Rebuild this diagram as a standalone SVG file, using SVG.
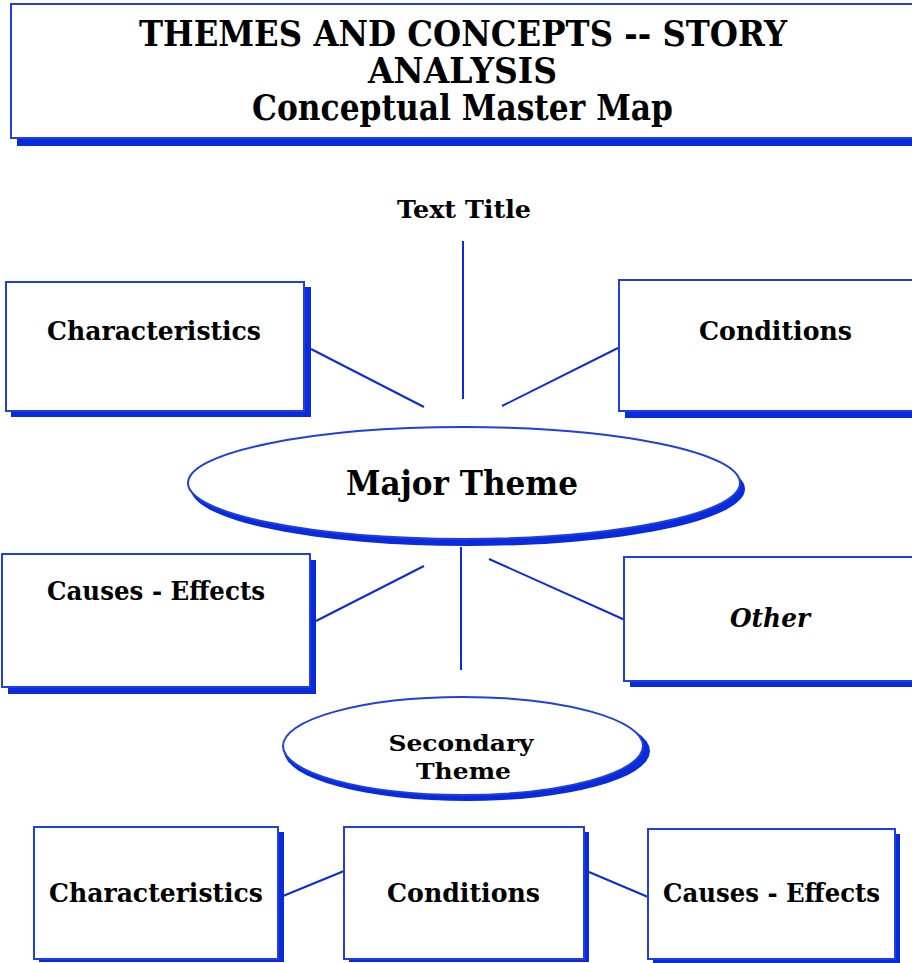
<svg xmlns="http://www.w3.org/2000/svg" width="912" height="963" viewBox="0 0 912 963">
  <style>
    .shadow { fill: #0a2bdc; }
    .box { fill: #ffffff; stroke: #1f3fe0; stroke-width: 2; }
    .link { stroke: #0a2bdc; stroke-width: 2; fill: none; }
    .lbl { font-family: "DejaVu Serif", "Liberation Serif", serif; font-weight: bold; fill: #000; text-anchor: middle; }
  </style>
  <rect width="912" height="963" fill="#ffffff"/>

  <!-- heading panel -->
  <g id="title">
    <rect class="shadow" x="17" y="10" width="903" height="136"/>
    <rect class="box" x="11" y="4" width="904" height="134"/>
    <text class="lbl" x="463" y="46" font-size="35" textLength="648" lengthAdjust="spacingAndGlyphs">THEMES AND CONCEPTS -- STORY</text>
    <text class="lbl" x="462.5" y="83" font-size="35" textLength="189" lengthAdjust="spacingAndGlyphs">ANALYSIS</text>
    <text class="lbl" x="462.5" y="120" font-size="35" textLength="421" lengthAdjust="spacingAndGlyphs">Conceptual Master Map</text>
  </g>

  <!-- connectors -->
  <g id="connectors">
    <line class="link" x1="463" y1="241" x2="463" y2="399"/>
    <line class="link" x1="311" y1="349" x2="424" y2="407"/>
    <line class="link" x1="618" y1="348" x2="502" y2="406"/>
    <line class="link" x1="461" y1="547" x2="461" y2="670"/>
    <line class="link" x1="316" y1="621" x2="424" y2="566"/>
    <line class="link" x1="489" y1="559" x2="625" y2="620"/>
    <line class="link" x1="283" y1="896" x2="344" y2="871"/>
    <line class="link" x1="589" y1="872" x2="648" y2="897"/>
  </g>

  <g id="text-title">
    <text class="lbl" x="464" y="218" font-size="25" textLength="134" lengthAdjust="spacingAndGlyphs">Text Title</text>
  </g>

  <g id="characteristics-top">
    <rect class="shadow" x="11" y="287" width="300" height="130"/>
    <rect class="box" x="6" y="282" width="298" height="129"/>
    <text class="lbl" x="154" y="340" font-size="26" textLength="214" lengthAdjust="spacingAndGlyphs">Characteristics</text>
  </g>

  <g id="conditions-top">
    <rect class="shadow" x="625" y="286" width="300" height="132"/>
    <rect class="box" x="619" y="280" width="300" height="131"/>
    <text class="lbl" x="775.5" y="340" font-size="26" textLength="153" lengthAdjust="spacingAndGlyphs">Conditions</text>
  </g>

  <g id="major-theme">
    <ellipse class="shadow" cx="468" cy="489" rx="277" ry="57"/>
    <ellipse class="box" cx="464" cy="483" rx="276" ry="56"/>
    <text class="lbl" x="462" y="495" font-size="34" textLength="232" lengthAdjust="spacingAndGlyphs">Major Theme</text>
  </g>

  <g id="causes-effects-top">
    <rect class="shadow" x="8" y="560" width="308" height="134"/>
    <rect class="box" x="2" y="554" width="308" height="133"/>
    <text class="lbl" x="156" y="600" font-size="26" textLength="218" lengthAdjust="spacingAndGlyphs">Causes - Effects</text>
  </g>

  <g id="other">
    <rect class="shadow" x="630" y="563" width="295" height="124"/>
    <rect class="box" x="624" y="557" width="295" height="124"/>
    <text class="lbl" x="770" y="627" font-size="26" font-style="italic" textLength="80" lengthAdjust="spacingAndGlyphs">Other</text>
  </g>

  <g id="secondary-theme">
    <ellipse class="shadow" cx="467" cy="751" rx="183" ry="50"/>
    <ellipse class="box" cx="463" cy="746" rx="180" ry="49"/>
    <text class="lbl" x="461" y="751" font-size="23" textLength="145" lengthAdjust="spacingAndGlyphs">Secondary</text>
    <text class="lbl" x="463.5" y="779" font-size="23" textLength="95" lengthAdjust="spacingAndGlyphs">Theme</text>
  </g>

  <g id="characteristics-bottom">
    <rect class="shadow" x="39" y="832" width="245" height="130"/>
    <rect class="box" x="34" y="827" width="244" height="132"/>
    <text class="lbl" x="156" y="902" font-size="26" textLength="214" lengthAdjust="spacingAndGlyphs">Characteristics</text>
  </g>

  <g id="conditions-bottom">
    <rect class="shadow" x="349" y="832" width="240" height="130"/>
    <rect class="box" x="344" y="827" width="240" height="132"/>
    <text class="lbl" x="463.5" y="902" font-size="26" textLength="153" lengthAdjust="spacingAndGlyphs">Conditions</text>
  </g>

  <g id="causes-effects-bottom">
    <rect class="shadow" x="653" y="834" width="247" height="129"/>
    <rect class="box" x="648" y="829" width="247" height="130"/>
    <text class="lbl" x="771.5" y="902" font-size="26" textLength="217" lengthAdjust="spacingAndGlyphs">Causes - Effects</text>
  </g>
</svg>
